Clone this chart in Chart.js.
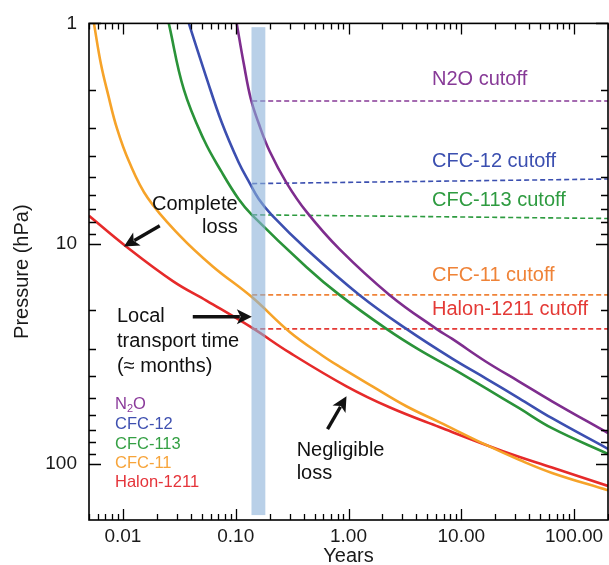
<!DOCTYPE html>
<html>
<head>
<meta charset="utf-8">
<script src="https://cdn.jsdelivr.net/npm/chart.js@4.4.0/dist/chart.umd.min.js"></script>
<style>
  html, body { margin: 0; padding: 0; background: #fff; }
  #wrap { width: 609px; height: 565px; }
</style>
</head>
<body>
<div id="wrap"><canvas id="chart" width="609" height="565"></canvas></div>
<script>
// Кривые: время (годы) и давление (гПа)
const n2oYears = [0.102, 0.118, 0.136, 0.160, 0.200, 0.283, 0.425, 0.832, 2.31, 6.01, 8.32, 16.6, 32.6, 63.8, 200];
const n2oPressure = [1.0, 1.53, 2.20, 2.85, 3.81, 5.31, 7.18, 10.6, 17.1, 24.4, 27.1, 34.4, 42.3, 52.0, 72.5];

const cfc12Years = [0.0384, 0.0543, 0.0752, 0.106, 0.133, 0.160, 0.208, 0.425, 1.25, 3.26, 8.32, 16.6, 32.6, 63.8, 200];
const cfc12Pressure = [1.0, 1.73, 2.82, 4.27, 5.31, 6.27, 7.40, 10.6, 17.1, 24.4, 33.3, 41.0, 50.4, 62.1, 85.6];

const cfc113Years = [0.0255, 0.0347, 0.0521, 0.0752, 0.106, 0.139, 0.425, 0.832, 2.17, 4.25, 8.32, 16.6, 32.6, 63.8, 200];
const cfc113Pressure = [1.0, 2.00, 3.37, 4.74, 6.27, 7.40, 12.8, 17.1, 24.4, 30.4, 36.9, 45.5, 55.9, 68.9, 90.2];

const cfc11Years = [0.00553, 0.00638, 0.00736, 0.00885, 0.0113, 0.0166, 0.0319, 0.0626, 0.139, 0.301, 0.589, 0.832, 1.63, 3.26, 6.38, 16.6, 32.6, 63.8, 200];
const cfc11Pressure = [1.0, 1.53, 2.09, 3.00, 4.23, 6.21, 9.20, 12.7, 17.5, 25.2, 32.3, 36.2, 44.5, 54.8, 64.7, 82.1, 95.9, 110, 132];

const halonYears = [0.005, 0.0104, 0.0277, 0.0554, 0.139, 0.301, 0.960, 2.31, 6.38, 23.1, 63.8, 200];
const halonPressure = [7.48, 10.2, 14.8, 18.2, 24.1, 31.3, 44.5, 55.4, 68.1, 87.4, 104, 126];

// Линии отсечки
const cutoffLabels = ['N2O cutoff', 'CFC-12 cutoff', 'CFC-113 cutoff', 'CFC-11 cutoff', 'Halon-1211 cutoff'];
const cutoffStartPressure = [2.25, 5.34, 7.40, 17.1, 24.4];
const cutoffEndPressure = [2.25, 5.09, 7.69, 17.1, 24.4];
const cutoffYears = [0.14, 200];

// Время локального переноса (полоса)
const transportYears = [0.138, 0.183];
const transportPressure = [1.04, 171];

// Подписи осей
const xTickValues = [0.01, 0.1, 1, 10, 100];
const yTickValues = [1, 10, 100];

const legendNames = ['N2O', 'CFC-12', 'CFC-113', 'CFC-11', 'Halon-1211'];

// Цвета
const curveColors = ['#7e2d8e', '#3c4fb0', '#2a9339', '#f6a329', '#e62a2a'];
const cutoffColors = ['#873a97', '#3b4fb0', '#2e9b40', '#ef8338', '#e43a36'];
const legendColors = ['#8a3a9a', '#3f50b0', '#35a044', '#f7a43a', '#e5343a'];

const FONT = 'Helvetica, Arial, "Liberation Sans", sans-serif';

// Расположение надписей (в координатах данных)
const cutoffLabelYears = 5.5;
const cutoffLabelPressure = [1.79, 4.23, 6.34, 13.9, 20.0];
const notes = [
  { text: 'Complete', years: 0.104, hPa: 6.67, align: 'right' },
  { text: 'loss', years: 0.104, hPa: 8.47, align: 'right' },
  { text: 'Local', years: 0.00885, hPa: 21.5, align: 'left' },
  { text: 'transport time', years: 0.00885, hPa: 27.9, align: 'left' },
  { text: '(≈ months)', years: 0.00885, hPa: 36.2, align: 'left' },
  { text: 'Negligible', years: 0.347, hPa: 87.4, align: 'left' },
  { text: 'loss', years: 0.347, hPa: 111, align: 'left' }
];
const arrows = [
  { from: [0.0212, 8.30], to: [0.0102, 10.3] },
  { from: [0.0416, 21.5], to: [0.139, 21.5] },
  { from: [0.652, 69.6], to: [0.960, 49.4] }
];
const legendYears = 0.0085;
const legendPressure = [53.7, 66.1, 81.3, 100, 122];

function toPoints(xs, ys) {
  return xs.map((x, i) => ({ x: x, y: ys[i] }));
}

function buildDatasets() {
  const curves = [
    [n2oYears, n2oPressure],
    [cfc12Years, cfc12Pressure],
    [cfc113Years, cfc113Pressure],
    [cfc11Years, cfc11Pressure],
    [halonYears, halonPressure]
  ];
  const sets = [];
  curves.forEach((c, i) => {
    sets.push({
      label: legendNames[i],
      data: toPoints(c[0], c[1]),
      borderColor: curveColors[i],
      borderWidth: 2.6,
      pointRadius: 0,
      tension: 0.4,
      fill: false
    });
  });
  cutoffLabels.forEach((name, i) => {
    sets.push({
      label: name,
      data: toPoints(cutoffYears, [cutoffStartPressure[i], cutoffEndPressure[i]]),
      borderColor: cutoffColors[i],
      borderWidth: 1.6,
      borderDash: [5, 3],
      pointRadius: 0,
      fill: false
    });
  });
  return sets;
}

function drawArrow(ctx, x1, y1, x2, y2) {
  const ang = Math.atan2(y2 - y1, x2 - x1);
  const head = 15, half = 7.5;
  const bx = x2 - Math.cos(ang) * head * 0.8;
  const by = y2 - Math.sin(ang) * head * 0.8;
  ctx.save();
  ctx.strokeStyle = '#111';
  ctx.fillStyle = '#111';
  ctx.lineWidth = 3.4;
  ctx.beginPath();
  ctx.moveTo(x1, y1);
  ctx.lineTo(bx, by);
  ctx.stroke();
  ctx.beginPath();
  ctx.moveTo(x2, y2);
  ctx.lineTo(x2 - Math.cos(ang) * head - Math.sin(ang) * half, y2 - Math.sin(ang) * head + Math.cos(ang) * half);
  ctx.lineTo(x2 - Math.cos(ang) * head * 0.75, y2 - Math.sin(ang) * head * 0.75);
  ctx.lineTo(x2 - Math.cos(ang) * head + Math.sin(ang) * half, y2 - Math.sin(ang) * head - Math.cos(ang) * half);
  ctx.closePath();
  ctx.fill();
  ctx.restore();
}

// Рамка, засечки, полоса и подписи
const decorations = {
  id: 'decorations',
  afterDatasetsDraw(chart) {
    const ctx = chart.ctx;
    const area = chart.chartArea;
    const xs = chart.scales.x;
    const ys = chart.scales.y;

    // полоса времени переноса
    const bx1 = xs.getPixelForValue(transportYears[0]);
    const bx2 = xs.getPixelForValue(transportYears[1]);
    const by1 = ys.getPixelForValue(transportPressure[0]);
    const by2 = ys.getPixelForValue(transportPressure[1]);
    ctx.save();
    ctx.fillStyle = 'rgba(138, 177, 217, 0.6)';
    ctx.fillRect(bx1, by1, bx2 - bx1, by2 - by1);
    ctx.restore();

    // засечки
    ctx.save();
    ctx.strokeStyle = '#000';
    ctx.lineWidth = 1.3;
    ctx.beginPath();
    for (let d = -3; d <= 2; d++) {
      for (let m = 1; m <= 9; m++) {
        const v = m * Math.pow(10, d);
        if (v < xs.min || v > xs.max) continue;
        const px = Math.round(xs.getPixelForValue(v)) + 0.5;
        const len = m === 1 ? 11 : 6;
        ctx.moveTo(px, area.bottom); ctx.lineTo(px, area.bottom - len);
        ctx.moveTo(px, area.top); ctx.lineTo(px, area.top + len);
      }
    }
    for (let d = 0; d <= 2; d++) {
      for (let m = 1; m <= 9; m++) {
        const v = m * Math.pow(10, d);
        if (v < ys.min || v > ys.max) continue;
        const py = Math.round(ys.getPixelForValue(v)) + 0.5;
        const len = m === 1 ? 12 : 7;
        ctx.moveTo(area.left, py); ctx.lineTo(area.left + len, py);
        ctx.moveTo(area.right, py); ctx.lineTo(area.right - len, py);
      }
    }
    ctx.stroke();
    ctx.lineWidth = 1.6;
    ctx.strokeRect(area.left, area.top, area.right - area.left, area.bottom - area.top);
    ctx.restore();

    // подписи отсечек
    ctx.save();
    ctx.font = '20px ' + FONT;
    ctx.textBaseline = 'middle';
    ctx.textAlign = 'left';
    cutoffLabels.forEach((t, i) => {
      ctx.fillStyle = cutoffColors[i];
      ctx.fillText(t, xs.getPixelForValue(cutoffLabelYears), ys.getPixelForValue(cutoffLabelPressure[i]));
    });

    // пояснения
    ctx.fillStyle = '#111';
    notes.forEach(n => {
      ctx.textAlign = n.align;
      ctx.fillText(n.text, xs.getPixelForValue(n.years), ys.getPixelForValue(n.hPa));
    });
    ctx.restore();

    arrows.forEach(a => {
      drawArrow(ctx,
        xs.getPixelForValue(a.from[0]), ys.getPixelForValue(a.from[1]),
        xs.getPixelForValue(a.to[0]), ys.getPixelForValue(a.to[1]));
    });

    // легенда
    ctx.save();
    ctx.textBaseline = 'middle';
    ctx.textAlign = 'left';
    const lx = xs.getPixelForValue(legendYears);
    legendNames.forEach((name, i) => {
      const ly = ys.getPixelForValue(legendPressure[i]);
      ctx.fillStyle = legendColors[i];
      ctx.font = '16.5px ' + FONT;
      if (name === 'N2O') {
        ctx.fillText('N', lx, ly);
        let w = ctx.measureText('N').width;
        ctx.font = '11px ' + FONT;
        ctx.fillText('2', lx + w, ly + 5);
        w += ctx.measureText('2').width;
        ctx.font = '16.5px ' + FONT;
        ctx.fillText('O', lx + w, ly);
      } else {
        ctx.fillText(name, lx, ly);
      }
    });
    ctx.restore();
  }
};

const ctx = document.getElementById('chart').getContext('2d');
new Chart(ctx, {
  type: 'line',
  data: { datasets: buildDatasets() },
  options: {
    responsive: false,
    maintainAspectRatio: false,
    devicePixelRatio: 1,
    animation: false,
    parsing: false,
    layout: { padding: { top: 19, right: 1, left: 0, bottom: 0 } },
    plugins: {
      legend: { display: false },
      tooltip: { enabled: false }
    },
    scales: {
      x: {
        type: 'logarithmic',
        position: 'bottom',
        min: 0.005,
        max: 200,
        grid: { display: false, drawTicks: false },
        border: { display: false },
        afterBuildTicks: s => { s.ticks = xTickValues.map(v => ({ value: v })); },
        afterFit: s => { s.height = 45; },
        ticks: {
          autoSkip: false,
          maxRotation: 0,
          padding: 5,
          color: '#1a1a1a',
          font: { family: FONT, size: 19 },
          callback: v => Number(v).toFixed(2)
        },
        title: {
          display: true,
          text: 'Years',
          color: '#1a1a1a',
          font: { family: FONT, size: 20, lineHeight: 1 },
          padding: { top: 0, bottom: -1 }
        }
      },
      y: {
        type: 'logarithmic',
        position: 'left',
        reverse: true,
        min: 1,
        max: 180,
        grid: { display: false, drawTicks: false },
        border: { display: false },
        afterBuildTicks: s => { s.ticks = yTickValues.map(v => ({ value: v })); },
        afterFit: s => { s.width = 89; },
        ticks: {
          autoSkip: false,
          padding: 12,
          color: '#1a1a1a',
          font: { family: FONT, size: 19 },
          callback: v => String(v)
        },
        title: {
          display: true,
          text: 'Pressure (hPa)',
          color: '#1a1a1a',
          font: { family: FONT, size: 20, lineHeight: 1 },
          padding: { top: 12, bottom: 0 }
        }
      }
    }
  },
  plugins: [decorations]
});
</script>
</body>
</html>
